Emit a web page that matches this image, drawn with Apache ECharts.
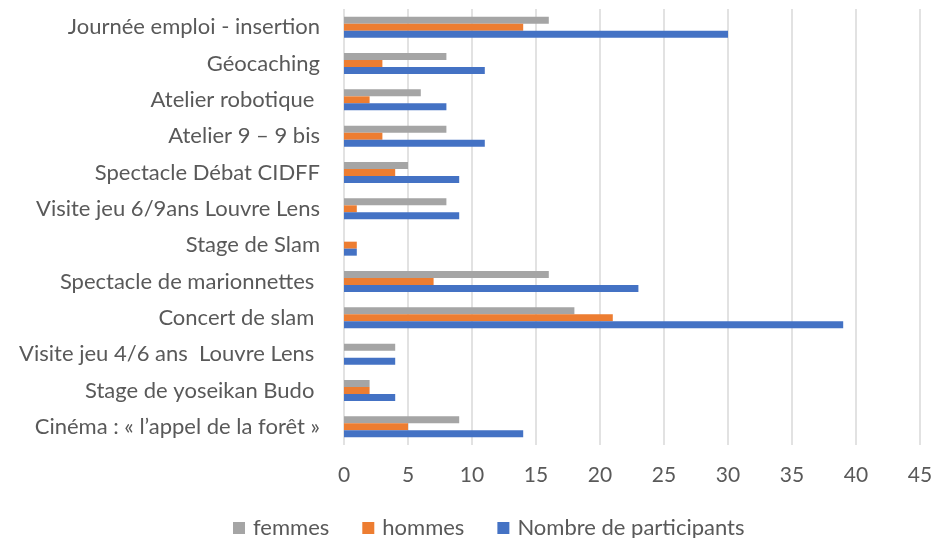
<!DOCTYPE html>
<html>
<head>
<meta charset="utf-8">
<script src="https://cdn.jsdelivr.net/npm/echarts@6/dist/echarts.min.js"></script>
<style>
  html, body { margin: 0; padding: 0; background: #fff; }
  #chart-container { width: 950px; height: 538px; }
</style>
</head>
<body>
<div id="chart-container"></div>
<script>
const categories = [
  'Journée emploi - insertion',
  'Géocaching',
  'Atelier robotique ',
  'Atelier 9 – 9 bis',
  'Spectacle Débat CIDFF',
  'Visite jeu 6/9ans Louvre Lens',
  'Stage de Slam',
  'Spectacle de marionnettes ',
  'Concert de slam ',
  'Visite jeu 4/6 ans  Louvre Lens ',
  'Stage de yoseikan Budo ',
  'Cinéma : « l’appel de la forêt »',
];
const femmes = [16, 8, 6, 8, 5, 8, 0, 16, 18, 4, 2, 9];
const hommes = [14, 3, 2, 3, 4, 1, 1, 7, 21, 0, 2, 5];
const participants = [30, 11, 8, 11, 9, 9, 1, 23, 39, 4, 4, 14];

const FONT = 'Lato, "Open Sans", sans-serif';
const TEXT = '#595959';

const dom = document.getElementById('chart-container');
const myChart = echarts.init(dom, null, { renderer: 'canvas' });

const barSeries = (name, data, color) => ({
  name,
  type: 'bar',
  data,
  barWidth: 7,
  barGap: '0%',
  itemStyle: { color },
  emphasis: { disabled: true },
});

const option = {
  animation: false,
  textStyle: { fontFamily: FONT },
  legend: {
    data: ['femmes', 'hommes', 'Nombre de participants'],
    bottom: -6,
    left: 228,
    itemWidth: 12,
    itemHeight: 12,
    itemGap: 33,
    icon: 'rect',
    textStyle: { color: TEXT, fontSize: 22, fontFamily: FONT, padding: [0, 0, 0, 3] },
  },
  grid: { left: 344, right: 30, top: 9, bottom: 93, containLabel: false },
  xAxis: {
    type: 'value',
    min: 0,
    max: 45,
    interval: 5,
    axisLine: { show: false },
    axisTick: { show: false },
    axisLabel: { color: TEXT, fontSize: 21, margin: 20, fontFamily: FONT },
    splitLine: { lineStyle: { color: '#d9d9d9', width: 1.5 } },
  },
  yAxis: {
    type: 'category',
    data: categories,
    inverse: true,
    axisLine: { show: false },
    axisTick: { show: false },
    axisLabel: { color: TEXT, fontSize: 22, margin: 24, fontFamily: FONT },
  },
  series: [
    barSeries('femmes', femmes, '#a5a5a5'),
    barSeries('hommes', hommes, '#ed7d31'),
    barSeries('Nombre de participants', participants, '#4472c4'),
  ],
};

myChart.setOption(option);
window.addEventListener('resize', myChart.resize);
</script>
</body>
</html>
